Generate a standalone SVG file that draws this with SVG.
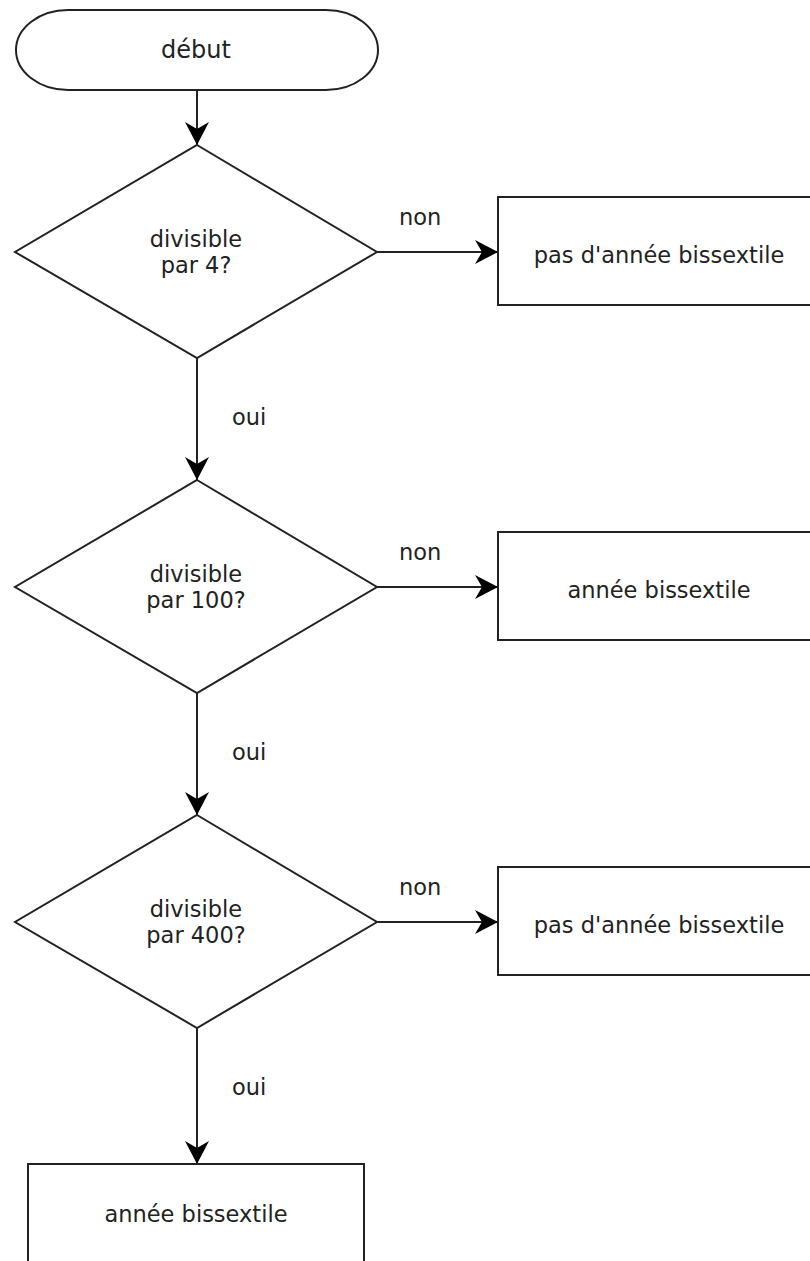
<svg xmlns="http://www.w3.org/2000/svg" width="810" height="1261" viewBox="0 0 810 1261">
  <style>
    .shape { fill: #ffffff; stroke: #222222; stroke-width: 2; }
    .edge { fill: none; stroke: #222222; stroke-width: 2; }
    .label { font-family: "DejaVu Sans", "Liberation Sans", sans-serif; font-size: 22.5px; fill: #222222; text-anchor: middle; }
    .edge-label { font-family: "DejaVu Sans", "Liberation Sans", sans-serif; font-size: 22.5px; fill: #222222; text-anchor: start; }
  </style>
  <defs>
    <marker id="arrow" markerUnits="userSpaceOnUse" markerWidth="26" markerHeight="26" viewBox="-24 -13 26 26" refX="0" refY="0" orient="auto">
      <path d="M0,0 L-23,-12 L-16,0 L-23,12 Z" fill="#000000"/>
    </marker>
  </defs>

  <rect width="810" height="1261" fill="#ffffff"/>

  <!-- connectors -->
  <g id="connectors">
    <path class="edge" d="M197,90 L197,145" marker-end="url(#arrow)"/>
    <path class="edge" d="M377,252 L498,252" marker-end="url(#arrow)"/>
    <path class="edge" d="M197,358 L197,480" marker-end="url(#arrow)"/>
    <path class="edge" d="M377,587 L498,587" marker-end="url(#arrow)"/>
    <path class="edge" d="M197,693 L197,815" marker-end="url(#arrow)"/>
    <path class="edge" d="M377,922 L498,922" marker-end="url(#arrow)"/>
    <path class="edge" d="M197,1028 L197,1164" marker-end="url(#arrow)"/>
    <text class="edge-label" x="399" y="225">non</text>
    <text class="edge-label" x="232" y="425">oui</text>
    <text class="edge-label" x="399" y="560">non</text>
    <text class="edge-label" x="232" y="760">oui</text>
    <text class="edge-label" x="399" y="895">non</text>
    <text class="edge-label" x="232" y="1095">oui</text>
  </g>

  <!-- start -->
  <g id="start">
    <rect class="shape" x="16" y="10" width="362" height="80" rx="52" ry="40"/>
    <text class="label" x="196" y="58" style="font-size:24px">début</text>
  </g>

  <!-- decision: divisible by 4 -->
  <g id="check4">
    <polygon class="shape" points="197,145 377,252 197,358 15,252"/>
    <text class="label" x="196" y="247">divisible</text>
    <text class="label" x="196" y="273">par 4?</text>
  </g>
  <g id="result1">
    <rect class="shape" x="498" y="197" width="324" height="108"/>
    <text class="label" x="659" y="263">pas d'année bissextile</text>
  </g>

  <!-- decision: divisible by 100 -->
  <g id="check100">
    <polygon class="shape" points="197,480 377,587 197,693 15,587"/>
    <text class="label" x="196" y="582">divisible</text>
    <text class="label" x="196" y="608">par 100?</text>
  </g>
  <g id="result2">
    <rect class="shape" x="498" y="532" width="324" height="108"/>
    <text class="label" x="659" y="598">année bissextile</text>
  </g>

  <!-- decision: divisible by 400 -->
  <g id="check400">
    <polygon class="shape" points="197,815 377,922 197,1028 15,922"/>
    <text class="label" x="196" y="917">divisible</text>
    <text class="label" x="196" y="943">par 400?</text>
  </g>
  <g id="result3">
    <rect class="shape" x="498" y="867" width="324" height="108"/>
    <text class="label" x="659" y="933">pas d'année bissextile</text>
  </g>

  <!-- final outcome -->
  <g id="result4">
    <rect class="shape" x="28" y="1164" width="336" height="108"/>
    <text class="label" x="196" y="1222">année bissextile</text>
  </g>
</svg>
